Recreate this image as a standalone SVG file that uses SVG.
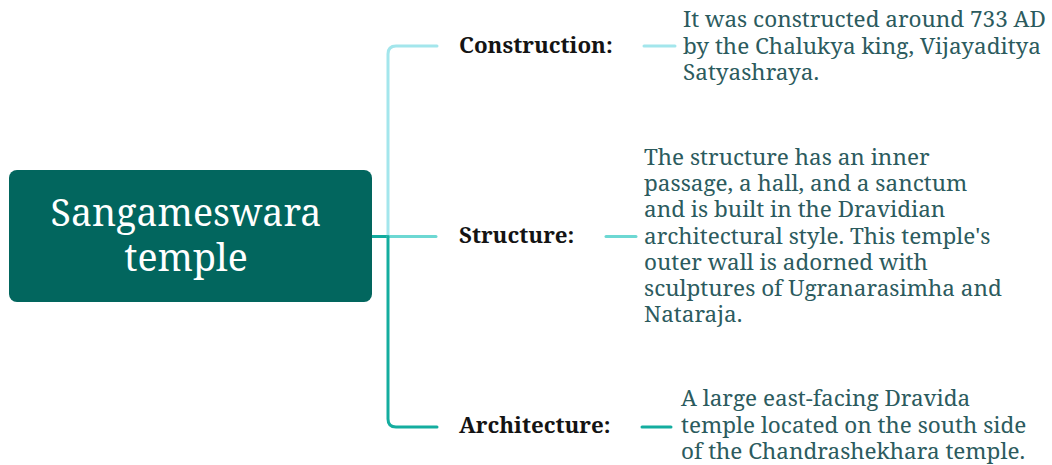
<svg xmlns="http://www.w3.org/2000/svg" width="1052" height="465" viewBox="0 0 1052 465">
<style>
.lbl{font-family:"Noto Serif","DejaVu Serif","Liberation Serif",serif;font-weight:bold;font-size:22.3px;fill:#141414}
.txt{font-family:"Noto Serif","DejaVu Serif","Liberation Serif",serif;font-size:22.5px;fill:#2c5b5e}
.root{font-family:"Noto Serif","DejaVu Serif","Liberation Serif",serif;font-size:37.5px;fill:#ffffff;text-anchor:middle}
.c{fill:none;stroke-width:3;stroke-linecap:round}
</style>
<rect width="1052" height="465" fill="#ffffff"/>
<g id="connectors">
<path class="c" d="M437,46 H396 Q388,46 388,54 V236" stroke="#a3e6ec"/>
<path class="c" d="M372,236.5 H388" stroke="#11ab9e"/>
<path class="c" d="M388,236.5 H436" stroke="#6dd8d3"/>
<path class="c" d="M388,236.5 V419 Q388,427 396,427 H437" stroke="#14ad9f"/>
<path class="c" d="M644,46 H675" stroke="#a3e6ec"/>
<path class="c" d="M606,236.5 H636" stroke="#6dd8d3"/>
<path class="c" d="M642,427 H671" stroke="#14ad9f"/>
</g>
<g id="root">
<rect x="9" y="170" width="363" height="132" rx="8" fill="#02665e"/>
<text class="root" x="186" y="226">Sangameswara</text>
<text class="root" x="186" y="271">temple</text>
</g>
<g id="construction">
<text class="lbl" x="459" y="53">Construction:</text>
</g>
<g id="construction-text">
<text class="txt" x="683"><tspan x="683" y="27">It was constructed around 733 AD</tspan><tspan x="683" y="53.5">by the Chalukya king, Vijayaditya</tspan><tspan x="683" y="80">Satyashraya.</tspan></text>
</g>
<g id="structure">
<text class="lbl" x="459" y="243">Structure:</text>
</g>
<g id="structure-text">
<text class="txt" x="644"><tspan x="644" y="165">The structure has an inner</tspan><tspan x="644" y="191.2">passage, a hall, and a sanctum</tspan><tspan x="644" y="217.4">and is built in the Dravidian</tspan><tspan x="644" y="243.6">architectural style. This temple's</tspan><tspan x="644" y="269.8">outer wall is adorned with</tspan><tspan x="644" y="296">sculptures of Ugranarasimha and</tspan><tspan x="644" y="322.2">Nataraja.</tspan></text>
</g>
<g id="architecture">
<text class="lbl" x="459" y="433">Architecture:</text>
</g>
<g id="architecture-text">
<text class="txt" x="681"><tspan x="681" y="406">A large east-facing Dravida</tspan><tspan x="681" y="432.5">temple located on the south side</tspan><tspan x="681" y="459">of the Chandrashekhara temple.</tspan></text>
</g>
</svg>
